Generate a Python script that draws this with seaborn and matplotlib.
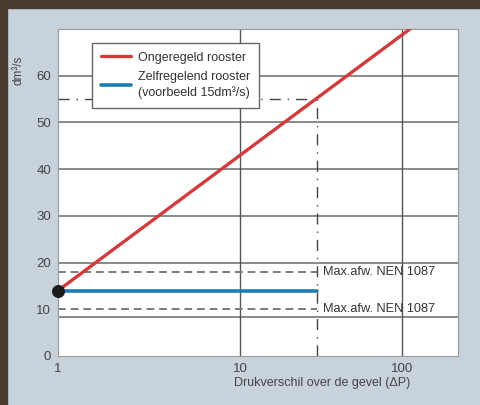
import matplotlib
matplotlib.use("Agg")
import matplotlib.pyplot as plt
import seaborn as sns
import pandas as pd
import numpy as np
from matplotlib.patches import Rectangle

# data
red_dp = [1, 112]
red_q = [14, 70]
blue_dp = [1, 30]
blue_q = [14, 14]
limit_q = [18, 10]
limit_label = "Max.afw. NEN 1087"
design_dp = 30
design_q = 55
grid_q = [8.3, 20, 30, 40, 50, 60]
grid_dp = [10, 100]
y_ticks = [0, 10, 20, 30, 40, 50, 60]
x_ticks = [1, 10, 100]
labels = ["Ongeregeld rooster", "Zelfregelend rooster\n(voorbeeld 15dm\u00b3/s)"]

# the printed axis is not quite logarithmic: second decade is drawn shorter
K = 162 / 182


def fwd(x):
    lx = np.log10(np.clip(x, 1e-9, None))
    return np.where(lx <= 1, lx, 1 + (lx - 1) * K)


def inv(y):
    y = np.asarray(y, dtype=float)
    return np.where(y <= 1, 10 ** y, 10 ** (1 + (y - 1) / K))


sns.set_style("white")
plt.rcParams['font.family'] = ['Liberation Sans', 'DejaVu Sans']

bg = "#c8d2db"
fig = plt.figure(figsize=(4.8, 4.05), dpi=100, facecolor=bg)
ax = fig.add_axes([58/480, 49/405, 400/480, 327/405])
ax.set_facecolor("white")

# brown frame of the scan on the left and top
fig.patches.append(Rectangle((0, 0), 7/480, 1, transform=fig.transFigure, color="#4d3a2e", zorder=0))
fig.patches.append(Rectangle((0, 1 - 8/405), 1, 8/405, transform=fig.transFigure, color="#4d3a2e", zorder=0))

ax.set_xscale("function", functions=(fwd, inv))
ax.set_xlim(1, float(inv(400 / 182)))
ax.set_ylim(0, 70)

for q in grid_q:
    ax.axhline(q, color="#6a6a6a", lw=1.1, zorder=1)
for d in grid_dp:
    ax.axvline(d, color="#555555", lw=1.0, zorder=1)

# tolerance band
for q in limit_q:
    ax.plot([1, design_dp], [q, q], color="#7a7a7a", lw=1.4, ls=(0, (4, 2.5)), zorder=2)
    ax.text(32.5, q, limit_label, fontsize=9.2, color="#333333", va="center", ha="left", zorder=3)

# design point dash-dot
ax.plot([1, design_dp], [design_q, design_q], color="#444444", lw=1.0, ls=(0, (8, 5, 1, 5)), zorder=2)
ax.plot([design_dp, design_dp], [0, design_q], color="#444444", lw=1.0, ls=(0, (8, 5, 1, 5)), zorder=2)

df_red = pd.DataFrame({"dp": red_dp, "q": red_q})
df_blue = pd.DataFrame({"dp": blue_dp, "q": blue_q})
sns.lineplot(data=df_red, x="dp", y="q", ax=ax, color="#d23b3c", lw=2.4, label=labels[0], zorder=4)
sns.lineplot(data=df_blue, x="dp", y="q", ax=ax, color="#1b7db3", lw=2.6, label=labels[1], zorder=4)
ax.scatter([red_dp[0]], [red_q[0]], s=70, color="#1a1a1a", zorder=5, clip_on=False)

leg = ax.legend(loc="upper left", bbox_to_anchor=(0.085, 0.957), borderaxespad=0,
                fontsize=9, frameon=True, fancybox=False, handlelength=2.4,
                handletextpad=0.6, labelspacing=0.55, borderpad=0.7, framealpha=1)
leg.get_frame().set_edgecolor("#666666")
leg.get_frame().set_linewidth(1.0)
leg.set_zorder(6)
for t in leg.get_texts():
    t.set_color("#333333")
    t.set_linespacing(1.35)

ax.set_xticks(x_ticks)
ax.set_xticklabels([str(v) for v in x_ticks])
ax.minorticks_off()
ax.set_yticks(y_ticks)
ax.tick_params(axis="both", length=0, labelsize=9.5, colors="#444444", pad=5)
ax.set_xlabel("")
ax.set_ylabel("")
for s in ax.spines.values():
    s.set_color("#9a9a9a")
    s.set_linewidth(0.8)

fig.text(18/480, 1 - 70/405, "dm\u00b3/s", rotation=90, ha="center", va="center", fontsize=8.5, color="#444444")
fig.text(322/480, 1 - 383/405, "Drukverschil over de gevel (\u0394P)", ha="center", va="center", fontsize=9, color="#444444")

fig.savefig("out.png", dpi=100, facecolor=bg)
